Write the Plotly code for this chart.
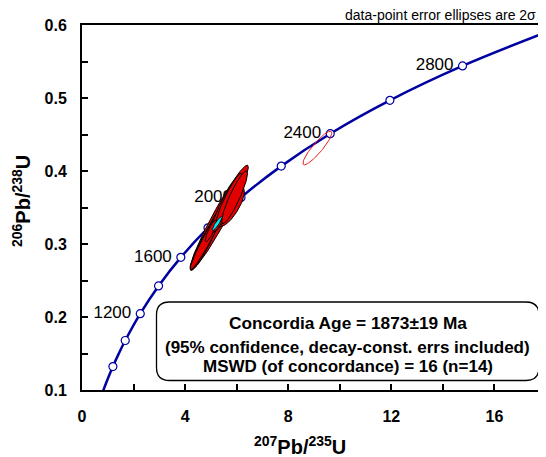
import numpy as np
import plotly.graph_objects as go

# ---------------- data ----------------
# Concordia curve (age in Ma, 207Pb/235U, 206Pb/238U)
conc_age = [600, 700, 800, 900, 1000, 1200, 1400, 1600, 1800, 2000, 2200, 2400, 2600, 2800, 3000]
conc_x = [0.806, 0.993, 1.199, 1.426, 1.677, 2.260, 2.970, 3.834, 4.887, 6.169, 7.729, 9.629, 11.944, 14.762, 18.193]
conc_y = [0.0975, 0.1147, 0.1321, 0.1498, 0.1678, 0.2046, 0.2426, 0.2817, 0.3221, 0.3638, 0.4067, 0.4511, 0.4968, 0.5439, 0.5926]

# Age tick markers on the concordia
mark_age = [800, 1000, 1200, 1400, 1600, 1800, 2000, 2200, 2400, 2600, 2800]
mark_x = [1.199, 1.677, 2.260, 2.970, 3.834, 4.887, 6.169, 7.729, 9.629, 11.944, 14.762]
mark_y = [0.1321, 0.1678, 0.2046, 0.2426, 0.2817, 0.3221, 0.3638, 0.4067, 0.4511, 0.4968, 0.5439]
label_ages = [1200, 1600, 2000, 2400, 2800]

# Data-point error ellipses (centre, 2-sigma errors, error correlation)
ell_x = [5.32, 5.78, 4.75, 4.85, 4.95, 4.60, 5.05, 5.15, 5.45, 4.90, 5.60, 5.00, 5.70, 5.92]
ell_y = [0.336, 0.351, 0.300, 0.308, 0.315, 0.292, 0.322, 0.330, 0.342, 0.310, 0.355, 0.318, 0.362, 0.364]
ell_sx = [1.13, 0.52, 0.55, 0.45, 0.40, 0.40, 0.35, 0.30, 0.42, 0.70, 0.60, 0.22, 0.50, 0.50]
ell_sy = [0.072, 0.027, 0.036, 0.030, 0.026, 0.027, 0.022, 0.020, 0.026, 0.045, 0.040, 0.015, 0.035, 0.036]
ell_rho = [0.962, 0.76, 0.93, 0.92, 0.91, 0.93, 0.91, 0.88, 0.84, 0.965, 0.92, 0.86, 0.93, 0.90]

# Rejected analysis (unfilled)
rej_x, rej_y, rej_sx, rej_sy, rej_rho = 9.13, 0.4315, 0.56, 0.023, 0.90

# Concordia age ellipse
cage_x, cage_y, cage_sx, cage_sy, cage_rho = 5.24, 0.328, 0.19, 0.0095, 0.90

x_tick_vals = [0, 4, 8, 12, 16]
x_tick_text = ["0", "4", "8", "12", "16"]
y_tick_vals = [0.1, 0.2, 0.3, 0.4, 0.5, 0.6]
y_tick_text = ["0.1", "0.2", "0.3", "0.4", "0.5", "0.6"]

box_lines = ["Concordia Age = 1873\u00b119 Ma",
             "(95% confidence, decay-const. errs included)",
             "MSWD (of concordance) = 16 (n=14)"]
corner_note = "data-point error ellipses are 2\u03c3"

# ---------------- figure ----------------
FONT = "Arial, 'Liberation Sans', sans-serif"
BLUE = "rgb(0,0,160)"
RED = "rgb(226,0,0)"
OFF = 8  # default page body margin

# plot area in page pixels
L, R, T, B = 82, 546, 25, 390
W, H = R - L, B - T
PX_X = W / 18.0


def ellipse(cx, cy, sx, sy, r, n=120):
    t = np.linspace(0, 2 * np.pi, n)
    x = cx + sx * np.cos(t)
    y = cy + sy * (r * np.cos(t) + np.sqrt(1 - r * r) * np.sin(t))
    return x, y


fig = go.Figure()

fig.add_trace(go.Scatter(x=conc_x, y=conc_y, mode="lines",
                         line=dict(color=BLUE, width=2.5, shape="spline", smoothing=1.0),
                         hoverinfo="skip", showlegend=False))

fig.add_trace(go.Scatter(x=mark_x, y=mark_y, mode="markers",
                         marker=dict(size=8, color="white", line=dict(color=BLUE, width=1.2)),
                         showlegend=False))

lab_x = [mark_x[mark_age.index(a)] - 9 / PX_X for a in label_ages]
lab_y = [mark_y[mark_age.index(a)] for a in label_ages]
fig.add_trace(go.Scatter(x=lab_x, y=lab_y, mode="text", text=[str(a) for a in label_ages],
                         textposition="middle left",
                         textfont=dict(family=FONT, size=17, color="black"),
                         showlegend=False))

for cx, cy, sx, sy, r in zip(ell_x, ell_y, ell_sx, ell_sy, ell_rho):
    ex, ey = ellipse(cx, cy, sx, sy, r)
    fig.add_trace(go.Scatter(x=ex, y=ey, mode="lines", fill="toself", fillcolor=RED,
                             line=dict(color="black", width=1), showlegend=False))

ex, ey = ellipse(rej_x, rej_y, rej_sx, rej_sy, rej_rho)
fig.add_trace(go.Scatter(x=ex, y=ey, mode="lines", line=dict(color="rgb(230,30,30)", width=1),
                         showlegend=False))

ex, ey = ellipse(cage_x, cage_y, cage_sx, cage_sy, cage_rho)
fig.add_trace(go.Scatter(x=ex, y=ey, mode="lines", fill="toself", fillcolor="rgb(0,235,235)",
                         line=dict(color="black", width=0.8), showlegend=False))

# rounded box (paper coords)
bx0, bx1 = (156.5 - L) / W, (539 - L) / W
by0, by1 = (B - 380.5) / H, (B - 302) / H
rx, ry = 13 / W, 13 / H
path = (f"M {bx0+rx},{by0} L {bx1-rx},{by0} Q {bx1},{by0} {bx1},{by0+ry} "
        f"L {bx1},{by1-ry} Q {bx1},{by1} {bx1-rx},{by1} L {bx0+rx},{by1} "
        f"Q {bx0},{by1} {bx0},{by1-ry} L {bx0},{by0+ry} Q {bx0},{by0} {bx0+rx},{by0} Z")
fig.add_shape(type="path", path=path, xref="paper", yref="paper",
              line=dict(color="black", width=1.3), fillcolor="white", layer="above")

cxp = ((156.5 + 539) / 2 - L) / W
for txt, py, fs in zip(box_lines, [323, 347, 366], [17.3, 17, 17]):
    fig.add_annotation(x=cxp, y=(B - py) / H, xref="paper", yref="paper", text=f"<b>{txt}</b>",
                       showarrow=False, xanchor="center", yanchor="middle",
                       font=dict(family=FONT, size=fs, color="black"))

fig.add_annotation(x=(537 - L) / W, y=(B - 15) / H, xref="paper", yref="paper", text=corner_note,
                   showarrow=False, xanchor="right", yanchor="middle", borderpad=0,
                   font=dict(family=FONT, size=14, color="black"))

fig.add_annotation(x=(300 - L) / W, y=(B - 445) / H, xref="paper", yref="paper",
                   text="<b><sup>207</sup>Pb/<sup>235</sup>U</b>", showarrow=False,
                   xanchor="center", yanchor="middle",
                   font=dict(family=FONT, size=20, color="black"))
fig.add_annotation(x=(21 - L) / W, y=(B - 201) / H, xref="paper", yref="paper",
                   text="<b><sup>206</sup>Pb/<sup>238</sup>U</b>", showarrow=False, textangle=-90,
                   xanchor="center", yanchor="middle",
                   font=dict(family=FONT, size=20, color="black"))

fig.update_layout(
    width=546 - OFF, height=457 - OFF,
    margin=dict(l=L - OFF, r=0, t=T - OFF, b=457 - B, pad=0),
    plot_bgcolor="white", paper_bgcolor="white",
    showlegend=False,
    xaxis=dict(range=[0, 18], tickvals=x_tick_vals, ticktext=x_tick_text,
               ticks="inside", ticklen=6, tickwidth=1.5, tickcolor="black",
               minor=dict(dtick=2, ticks="inside", ticklen=6, tickwidth=1.5, tickcolor="black"),
               showline=True, linecolor="black", linewidth=2, mirror=True,
               showgrid=False, zeroline=False, ticklabelstandoff=11,
               tickfont=dict(family=FONT, size=16, color="black", weight="bold")),
    yaxis=dict(range=[0.1, 0.6], tickvals=y_tick_vals, ticktext=y_tick_text,
               ticks="inside", ticklen=6, tickwidth=1.5, tickcolor="black",
               minor=dict(dtick=0.05, tick0=0.1, ticks="inside", ticklen=6, tickwidth=1.5, tickcolor="black"),
               showline=True, linecolor="black", linewidth=2, mirror=False,
               showgrid=False, zeroline=False, ticklabelstandoff=10,
               tickfont=dict(family=FONT, size=16, color="black", weight="bold")),
)

fig.write_html("out.html")
